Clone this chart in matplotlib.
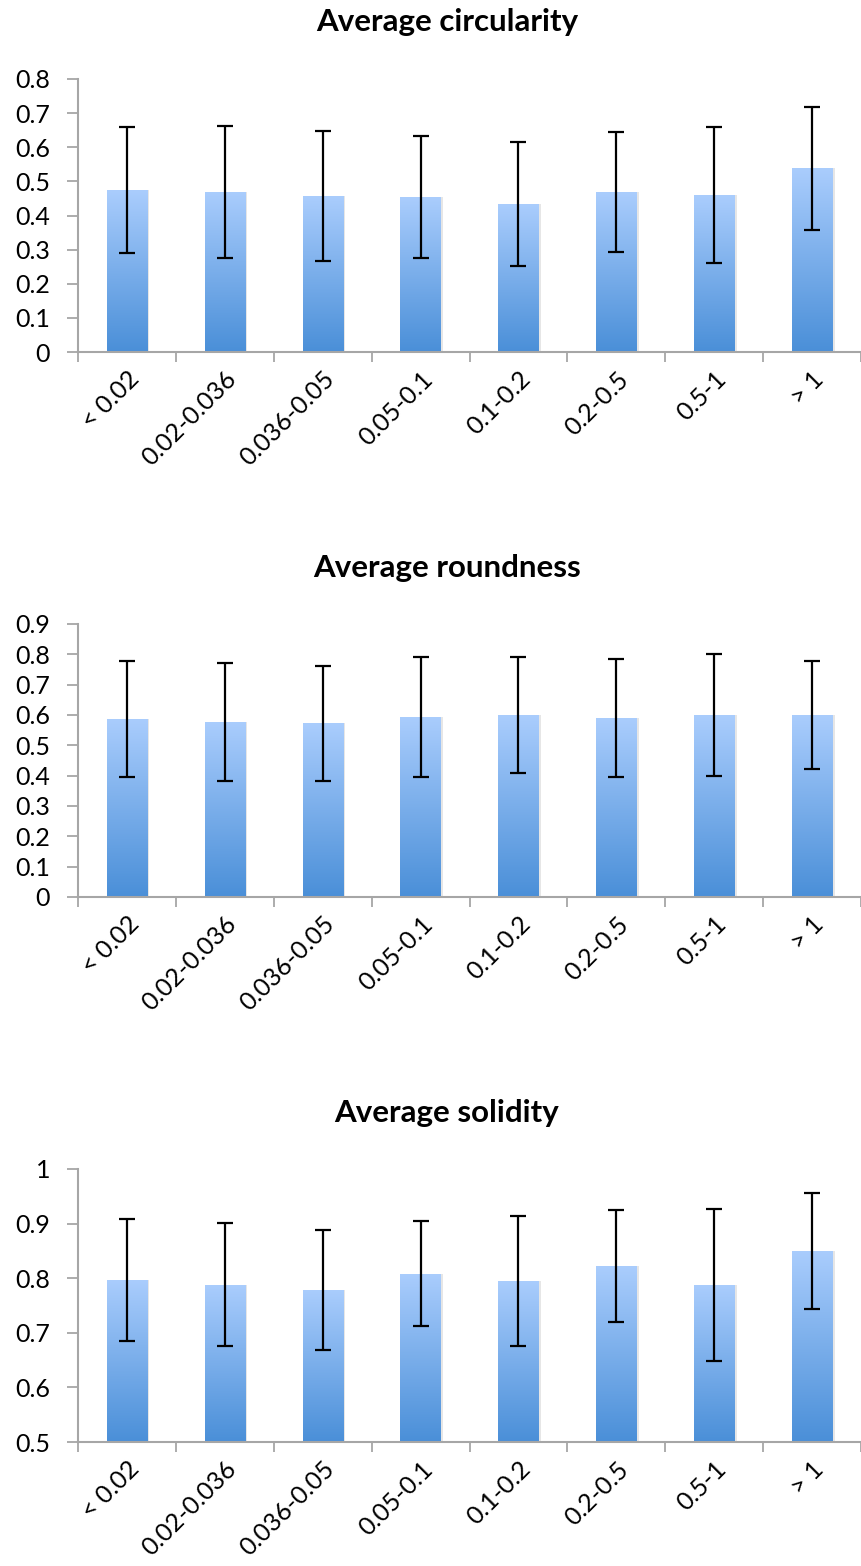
import numpy as np
import matplotlib
matplotlib.use("Agg")
import matplotlib.pyplot as plt
from matplotlib.colors import LinearSegmentedColormap
from matplotlib.ticker import FuncFormatter
from matplotlib.transforms import ScaledTranslation

plt.rcParams['font.family'] = ['Lato', 'DejaVu Sans']

categories = ["< 0.02", "0.02-0.036", "0.036-0.05", "0.05-0.1",
              "0.1-0.2", "0.2-0.5", "0.5-1", "> 1"]

circ_mean = [0.474, 0.469, 0.457, 0.454, 0.433, 0.468, 0.459, 0.538]
circ_sd = [0.184, 0.193, 0.190, 0.179, 0.181, 0.176, 0.199, 0.180]

round_mean = [0.587, 0.577, 0.573, 0.594, 0.600, 0.590, 0.600, 0.600]
round_sd = [0.191, 0.196, 0.189, 0.198, 0.190, 0.193, 0.200, 0.177]

sol_mean = [0.797, 0.788, 0.779, 0.808, 0.795, 0.822, 0.788, 0.850]
sol_sd = [0.112, 0.113, 0.110, 0.096, 0.119, 0.102, 0.139, 0.106]

panels = [
    ("Average circularity", circ_mean, circ_sd, 0.0, 0.8, 0.1),
    ("Average roundness", round_mean, round_sd, 0.0, 0.9, 0.1),
    ("Average solidity", sol_mean, sol_sd, 0.5, 1.0, 0.1),
]

W, H = 861, 1566
fig = plt.figure(figsize=(W / 100, H / 100), dpi=100)

cmap = LinearSegmentedColormap.from_list("bar", ["#4a8fd8", "#aacdfd"])
grad = np.linspace(0, 1, 256).reshape(-1, 1)

axis_top = [79, 624, 1169]
title_y = [22, 568, 1113]
ax_h = 273
ax_left = 78

for (title, mean, sd, ymin, ymax, step), top, ty in zip(panels, axis_top, title_y):
    ax = fig.add_axes([ax_left / W, 1 - (top + ax_h) / H, (W - ax_left) / W, ax_h / H])
    x = np.arange(len(categories))
    bars = ax.bar(x, np.array(mean) - ymin, bottom=ymin, width=0.41,
                  color="none", edgecolor="none", zorder=2)
    for b in bars:
        x0, y0 = b.get_x(), b.get_y()
        # soft shadow at right side
        ax.fill_between([x0 + b.get_width(), x0 + b.get_width() + 0.025],
                        y0, y0 + b.get_height(), color="#e6e6e6", lw=0, zorder=1)
        im = ax.imshow(grad, extent=[x0, x0 + b.get_width(), y0, y0 + b.get_height()],
                       origin="lower", cmap=cmap, aspect="auto", zorder=2)
        im.set_clip_path(b)
    ax.errorbar(x, mean, yerr=sd, fmt="none", ecolor="black", elinewidth=1.6,
                capsize=6, capthick=1.6, zorder=3)

    ax.set_xlim(-0.5, 7.45)
    ax.set_ylim(ymin, ymax)
    ax.set_yticks(np.arange(ymin, ymax + step / 2, step))
    ax.yaxis.set_major_formatter(FuncFormatter(lambda v, p: "%g" % round(v, 2)))
    ax.set_xticks(np.arange(-0.5, 7.6, 1.0))
    ax.set_xticklabels([])
    ax.set_xticks(x, minor=True)
    ax.set_xticklabels(categories, minor=True, rotation=45, ha="right",
                       va="top", rotation_mode="anchor", fontsize=18)
    shift = ScaledTranslation(-6 / 100, 0, fig.dpi_scale_trans)
    for lab in ax.get_xticklabels(minor=True):
        lab.set_transform(lab.get_transform() + shift)
    ax.tick_params(axis="x", which="minor", length=0, pad=11)
    ax.tick_params(axis="x", which="major", length=7, width=1.3, color="#a6a6a6")
    ax.tick_params(axis="y", length=8, width=1.3, color="#a6a6a6", labelsize=18, pad=12)
    for s in ["top", "right"]:
        ax.spines[s].set_visible(False)
    for s in ["left", "bottom"]:
        ax.spines[s].set_color("#a6a6a6")
        ax.spines[s].set_linewidth(1.5)
    ax.set_facecolor("none")

    fig.text(447 / W, 1 - ty / H, title, ha="center", va="center",
             fontsize=22.5, fontweight="bold")

fig.savefig("out.png", dpi=100)
